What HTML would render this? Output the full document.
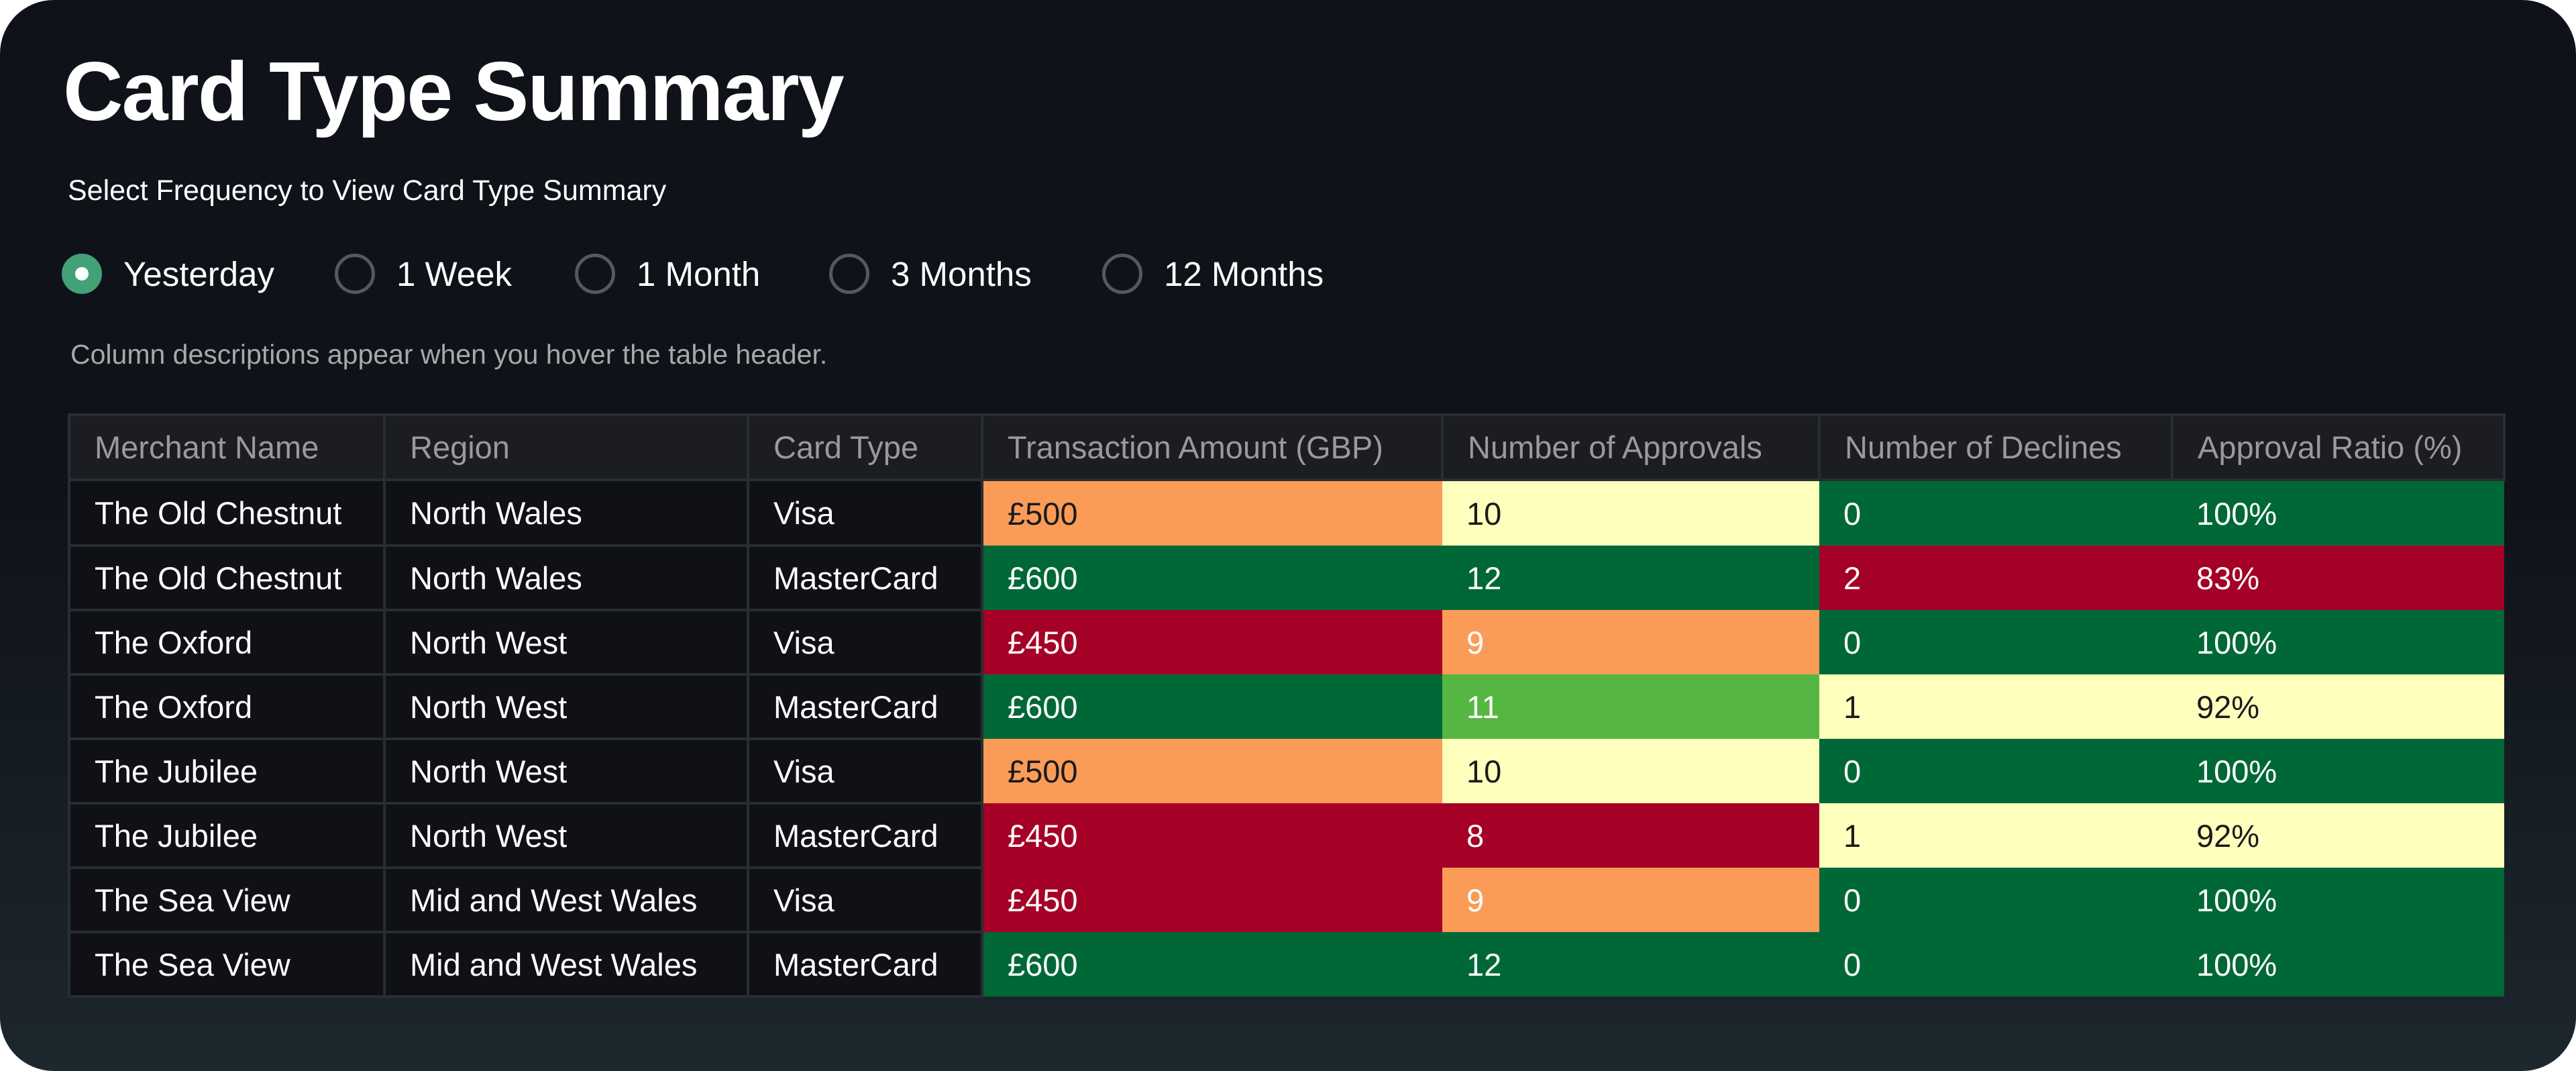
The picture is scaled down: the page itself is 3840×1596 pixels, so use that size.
<!DOCTYPE html>
<html><head><meta charset="utf-8"><style>
html,body{margin:0;padding:0;width:3840px;height:1596px;background:#fff;overflow:hidden;font-family:"Liberation Sans",sans-serif}
#card{position:absolute;left:0;top:0;width:3840px;height:1596px;border-radius:80px;background:linear-gradient(180deg,#0f1219 0%,#0f1219 45%,#1d272e 100%);}
#title{position:absolute;left:94px;top:66px;font-size:124px;font-weight:bold;color:#fff;letter-spacing:-2px;white-space:nowrap}
#sub{position:absolute;left:101px;top:260px;font-size:43px;color:#fff;white-space:nowrap}
.radio{position:absolute;top:376px;height:64px;display:flex;align-items:center;color:#fff;font-size:51px;white-space:nowrap}
.dot{width:60px;height:60px;border-radius:50%;border:5px solid #55585c;box-sizing:border-box;margin-right:32px}
.dot.on{border:none;background:#43a177;position:relative}
.dot.on::after{content:"";position:absolute;left:20px;top:20px;width:20px;height:20px;border-radius:50%;background:#fff}
#note{position:absolute;left:105px;top:505px;font-size:41px;color:#a8a8a8;white-space:nowrap}
table{position:absolute;left:101px;top:616px;border-collapse:collapse;table-layout:fixed}
td,th{border:4px solid #2a2d32;padding:0 0 0 36px;height:92px;font-size:47px;text-align:left;font-weight:normal;white-space:nowrap;overflow:hidden}
th{background:#1b1d22;color:#9a9a9a;height:93px}
td{background:#0f1117;color:#fff}
td.h{border:none;height:96px}
</style></head><body>
<div id="card">
<div id="title">Card Type Summary</div>
<div id="sub">Select Frequency to View Card Type Summary</div>
<div class="radio" style="left:92px"><div class="dot on"></div>Yesterday</div>
<div class="radio" style="left:499px"><div class="dot"></div>1 Week</div>
<div class="radio" style="left:857px"><div class="dot"></div>1 Month</div>
<div class="radio" style="left:1236px"><div class="dot"></div>3 Months</div>
<div class="radio" style="left:1643px"><div class="dot"></div>12 Months</div>
<div id="note">Column descriptions appear when you hover the table header.</div>
<table id="tbl">
<colgroup><col style="width:470px"><col style="width:542px"><col style="width:349px"><col style="width:686px"><col style="width:562px"><col style="width:526px"><col style="width:495px"></colgroup>
<thead><tr>
<th>Merchant Name</th>
<th>Region</th>
<th>Card Type</th>
<th>Transaction Amount (GBP)</th>
<th>Number of Approvals</th>
<th>Number of Declines</th>
<th>Approval Ratio (%)</th>
</tr></thead><tbody id="tb"></tbody></table>
</div>
<script>
const merchants=["The Old Chestnut","The Old Chestnut","The Oxford","The Oxford","The Jubilee","The Jubilee","The Sea View","The Sea View"];
const regions=["North Wales","North Wales","North West","North West","North West","North West","Mid and West Wales","Mid and West Wales"];
const cardTypes=["Visa","MasterCard","Visa","MasterCard","Visa","MasterCard","Visa","MasterCard"];
const amounts=[500,600,450,600,500,450,450,600];
const approvals=[10,12,9,11,10,8,9,12];
const declines=[0,2,0,1,0,1,0,0];
const ratios=[100,83,100,92,100,92,100,100];
const palette=["#a50026","#fa9c58","#fefebd","#55b741","#006837"];
function level(v,arr,reverse){const mn=Math.min(...arr),mx=Math.max(...arr);let t=mx===mn?1:(v-mn)/(mx-mn);if(reverse)t=1-t;return t<0.125?0:t<0.375?1:t<0.625?2:t<0.875?3:4;}
const tb=document.getElementById('tb');
for(let i=0;i<merchants.length;i++){
  const tr=document.createElement('tr');
  
  
  const plain=[["merchant-name-cell",merchants[i]],["region-cell",regions[i]],["card-type-cell",cardTypes[i]]];
  plain.forEach(p=>{const td=document.createElement('td');td.textContent=p[1];
    
    
    tr.appendChild(td);});
  const heat=[["amount-cell","£"+amounts[i],level(amounts[i],amounts,false)],
    ["approvals-cell",String(approvals[i]),level(approvals[i],approvals,false)],
    ["declines-cell",String(declines[i]),level(declines[i],declines,true)],
    ["ratio-cell",ratios[i]+"%",level(ratios[i],ratios,false)]];
  heat.forEach(h=>{const td=document.createElement('td');td.className='h';td.textContent=h[1];
    td.style.background=palette[h[2]];
    let c='#fff';
    if(h[2]===2)c='#1a1a1a';
    if(h[2]===1&&h[0]==='amount-cell')c='#1a1a1a';
    td.style.color=c;
    
    
    tr.appendChild(td);});
  tb.appendChild(tr);
}
</script>
</body></html>
